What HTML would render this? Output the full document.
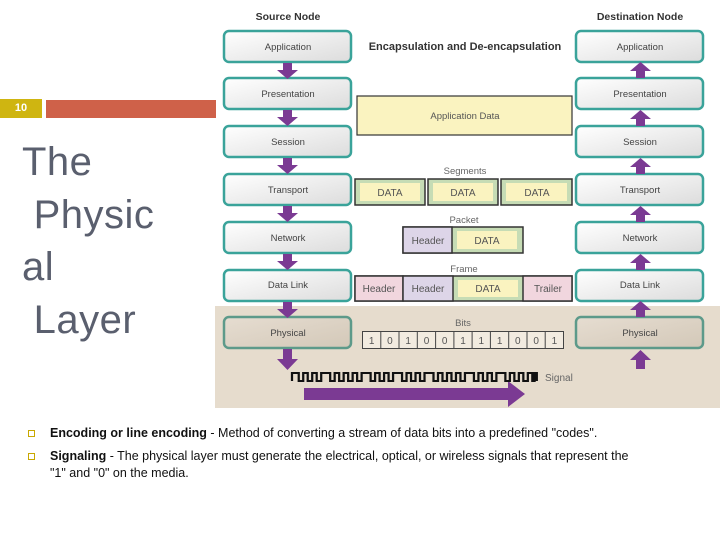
<!DOCTYPE html>
<html><head><meta charset="utf-8"><style>
html,body{margin:0;padding:0;background:#fff;width:720px;height:540px;overflow:hidden;position:relative;font-family:"Liberation Sans",sans-serif}
.num{position:absolute;left:0;top:99px;width:42px;height:19px;background:#cfb511;color:#fff;font-size:11px;font-weight:bold;text-align:center;line-height:19px}
.bar{position:absolute;left:46px;top:100px;width:170px;height:18px;background:#cf6149}
.title{position:absolute;left:22px;top:136px;font-size:40px;line-height:52.5px;color:#5a5f6e;white-space:pre;letter-spacing:0.5px}
.bl{position:absolute;left:50px;font-size:12.5px;color:#111;line-height:17px;width:660px}
.sq{position:absolute;left:28px;width:5px;height:5px;border:1px solid #c8a800}
</style></head><body>
<div class="num">10</div><div class="bar"></div>
<div class="title">The
 Physic
al
 Layer</div>
<svg width="720" height="540" style="position:absolute;left:0;top:0" xmlns="http://www.w3.org/2000/svg" font-family="Liberation Sans, sans-serif">
<defs>
<linearGradient id="g" x1="0" y1="0" x2="1" y2="1"><stop offset="0" stop-color="#fff"/><stop offset="1" stop-color="#dcdcdc"/></linearGradient>
<linearGradient id="gp" x1="0" y1="0" x2="1" y2="1"><stop offset="0" stop-color="#e6ddd1"/><stop offset="1" stop-color="#d3c8b8"/></linearGradient>
</defs>
<rect x="215" y="306" width="505" height="102" fill="#e6dccd"/>
<text x="288" y="20" font-size="10.5" font-weight="bold" fill="#333" text-anchor="middle">Source Node</text>
<text x="640" y="20" font-size="10.5" font-weight="bold" fill="#333" text-anchor="middle">Destination Node</text>
<text x="465" y="50" font-size="11" font-weight="bold" fill="#333" text-anchor="middle">Encapsulation and De-encapsulation</text>
<g id="boxes" font-size="9.5" fill="#444" text-anchor="middle">
<rect x="224" y="31" width="127" height="31" rx="5" fill="url(#g)" stroke="#3aa39a" stroke-width="2.5"/><text x="288" y="50" fill="#444">Application</text>
<rect x="224" y="78" width="127" height="31" rx="5" fill="url(#g)" stroke="#3aa39a" stroke-width="2.5"/><text x="288" y="97" fill="#444">Presentation</text>
<rect x="224" y="126" width="127" height="31" rx="5" fill="url(#g)" stroke="#3aa39a" stroke-width="2.5"/><text x="288" y="145" fill="#444">Session</text>
<rect x="224" y="174" width="127" height="31" rx="5" fill="url(#g)" stroke="#3aa39a" stroke-width="2.5"/><text x="288" y="193" fill="#444">Transport</text>
<rect x="224" y="222" width="127" height="31" rx="5" fill="url(#g)" stroke="#3aa39a" stroke-width="2.5"/><text x="288" y="241" fill="#444">Network</text>
<rect x="224" y="270" width="127" height="31" rx="5" fill="url(#g)" stroke="#3aa39a" stroke-width="2.5"/><text x="288" y="288" fill="#444">Data Link</text>
<rect x="224" y="317" width="127" height="31" rx="5" fill="url(#gp)" stroke="#5d9a8a" stroke-width="2.5"/><text x="288" y="336" fill="#444">Physical</text>
<rect x="576" y="31" width="127" height="31" rx="5" fill="url(#g)" stroke="#3aa39a" stroke-width="2.5"/><text x="640" y="50" fill="#444">Application</text>
<rect x="576" y="78" width="127" height="31" rx="5" fill="url(#g)" stroke="#3aa39a" stroke-width="2.5"/><text x="640" y="97" fill="#444">Presentation</text>
<rect x="576" y="126" width="127" height="31" rx="5" fill="url(#g)" stroke="#3aa39a" stroke-width="2.5"/><text x="640" y="145" fill="#444">Session</text>
<rect x="576" y="174" width="127" height="31" rx="5" fill="url(#g)" stroke="#3aa39a" stroke-width="2.5"/><text x="640" y="193" fill="#444">Transport</text>
<rect x="576" y="222" width="127" height="31" rx="5" fill="url(#g)" stroke="#3aa39a" stroke-width="2.5"/><text x="640" y="241" fill="#444">Network</text>
<rect x="576" y="270" width="127" height="31" rx="5" fill="url(#g)" stroke="#3aa39a" stroke-width="2.5"/><text x="640" y="288" fill="#444">Data Link</text>
<rect x="576" y="317" width="127" height="31" rx="5" fill="url(#gp)" stroke="#5d9a8a" stroke-width="2.5"/><text x="640" y="336" fill="#444">Physical</text>
</g>
<g fill="#7b3a93">
<path d="M283,63h9v7h6l-10.5,9l-10.5,-9h6z"/>
<path d="M283,110h9v7h6l-10.5,9l-10.5,-9h6z"/>
<path d="M283,158h9v7h6l-10.5,9l-10.5,-9h6z"/>
<path d="M283,206h9v7h6l-10.5,9l-10.5,-9h6z"/>
<path d="M283,254h9v7h6l-10.5,9l-10.5,-9h6z"/>
<path d="M283,302h9v7h6l-10.5,9l-10.5,-9h6z"/>
<path d="M283,349h9v10h6l-10.5,11l-10.5,-11h6z"/>
<path d="M636,78h9v-7h6l-10.5,-9l-10.5,9h6z"/>
<path d="M636,126h9v-7h6l-10.5,-9l-10.5,9h6z"/>
<path d="M636,174h9v-7h6l-10.5,-9l-10.5,9h6z"/>
<path d="M636,222h9v-7h6l-10.5,-9l-10.5,9h6z"/>
<path d="M636,270h9v-7h6l-10.5,-9l-10.5,9h6z"/>
<path d="M636,317h9v-7h6l-10.5,-9l-10.5,9h6z"/>
<path d="M636,369h9v-9h6l-10.5,-10l-10.5,10h6z"/>
<path d="M304,388h204v-7l17,13l-17,13v-7h-204z"/>
</g>
<rect x="357" y="96" width="215" height="39" fill="#faf3c0" stroke="#333" stroke-width="1.2"/>
<text x="465" y="119" font-size="9.5" fill="#555" text-anchor="middle">Application Data</text>
<g font-size="9.5" fill="#666" text-anchor="middle">
<text x="465" y="174">Segments</text>
<text x="464" y="223">Packet</text>
<text x="464" y="272">Frame</text>
<text x="463" y="326">Bits</text>
</g>
<g stroke="#333" stroke-width="1.5">
<rect x="355" y="179" width="70" height="26" fill="#c6dcb5"/>
<rect x="428" y="179" width="70" height="26" fill="#c6dcb5"/>
<rect x="501" y="179" width="71" height="26" fill="#c6dcb5"/>
<rect x="403" y="227" width="120" height="26" fill="#c6dcb5"/>
<rect x="403" y="227" width="49" height="26" fill="#ddd5e8"/>
<rect x="355" y="276" width="217" height="25" fill="#c6dcb5"/>
<rect x="355" y="276" width="48" height="25" fill="#f1d6de"/>
<rect x="403" y="276" width="50" height="25" fill="#ddd5e8"/>
<rect x="523" y="276" width="49" height="25" fill="#f1d6de"/>
</g>
<g fill="#faf3c0">
<rect x="360" y="183" width="60" height="18"/><rect x="433" y="183" width="60" height="18"/><rect x="506" y="183" width="61" height="18"/>
<rect x="457" y="231" width="60" height="18"/>
<rect x="458" y="280" width="60" height="17"/>
</g>
<g font-size="10" fill="#555" text-anchor="middle">
<text x="390" y="196">DATA</text><text x="463" y="196">DATA</text><text x="537" y="196">DATA</text>
<text x="428" y="244">Header</text><text x="487" y="244">DATA</text>
<text x="379" y="292">Header</text><text x="428" y="292">Header</text><text x="488" y="292">DATA</text><text x="548" y="292">Trailer</text>
</g>
<rect x="362.5" y="331.5" width="201" height="17" stroke="#444" stroke-width="1" fill="#f2ebe0"/>
<g stroke="#444" stroke-width="1">
<line x1="380.8" y1="331" x2="380.8" y2="349"/><line x1="399" y1="331" x2="399" y2="349"/><line x1="417.3" y1="331" x2="417.3" y2="349"/><line x1="435.6" y1="331" x2="435.6" y2="349"/><line x1="453.9" y1="331" x2="453.9" y2="349"/><line x1="472.1" y1="331" x2="472.1" y2="349"/><line x1="490.4" y1="331" x2="490.4" y2="349"/><line x1="508.7" y1="331" x2="508.7" y2="349"/><line x1="527" y1="331" x2="527" y2="349"/><line x1="545.2" y1="331" x2="545.2" y2="349"/>
</g>
<g font-size="10" fill="#555" text-anchor="middle">
<text x="371.6" y="344">1</text><text x="389.9" y="344">0</text><text x="408.2" y="344">1</text><text x="426.5" y="344">0</text><text x="444.7" y="344">0</text><text x="463" y="344">1</text><text x="481.3" y="344">1</text><text x="499.6" y="344">1</text><text x="517.8" y="344">0</text><text x="536.1" y="344">0</text><text x="554.4" y="344">1</text>
</g>
<path transform="translate(292,0) scale(1.123,1) translate(-292,0)" d="M292,381V373h6v8h4v-8h4v8h4v-8h4v8h4v-8h8v8h4v-8h4v8h4v-8h4v8h4v-8h4v8h4v-8h8v8h4v-8h4v8h4v-8h4v8h4v-8h8v8h4v-8h4v8h4v-8h4v8h4v-8h8v8h4v-8h4v8h4v-8h4v8h4v-8h4v8h4v-8h8v8h4v-8h4v8h4v-8h4v8h4v-8h8v8h4v-8h4v8h4v-8h4v8h4v-8h4v8h2v-8h2v8" fill="none" stroke="#111" stroke-width="2"/>
<text x="545" y="381" font-size="10" fill="#666">Signal</text>
</svg>
<div class="sq" style="top:430px"></div>
<div class="bl" style="top:425px"><b>Encoding or line encoding</b> - Method of converting a stream of data bits into a predefined "codes".</div>
<div class="sq" style="top:453px"></div>
<div class="bl" style="top:448px"><b>Signaling</b> - The physical layer must generate the electrical, optical, or wireless signals that represent the<br>"1" and "0" on the media.</div>
</body></html>
